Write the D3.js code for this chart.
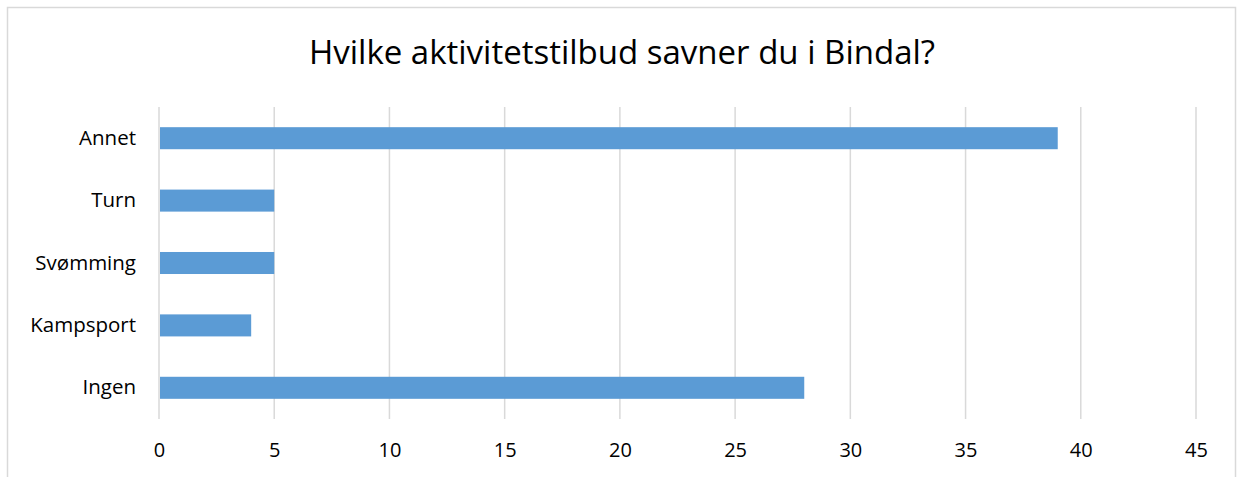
<!DOCTYPE html>
<html>
<head>
<meta charset="utf-8">
<script src="https://cdn.jsdelivr.net/npm/d3@7"></script>
<style>
  body { margin: 0; background: #fff; }
  svg text { font-family: "Open Sans", sans-serif; fill: #000; }
</style>
</head>
<body>
<svg id="chart" width="1237" height="477"></svg>
<script>
    // chart data, top to bottom
    var categories = ["Annet", "Turn", "Svømming", "Kampsport", "Ingen"];
    var counts = [39, 5, 5, 4, 28];
    var xTicks = [0, 5, 10, 15, 20, 25, 30, 35, 40, 45];
    var title = "Hvilke aktivitetstilbud savner du i Bindal?";

    var svg = d3.select("#chart"),
        plot = {left: 159, right: 1196, top: 107, bottom: 419};

    // outer frame
    svg.append("rect")
        .attr("x", 7.5).attr("y", 7.5)
        .attr("width", 1228).attr("height", 520)
        .attr("fill", "none")
        .attr("stroke", "#d9d9d9")
        .attr("stroke-width", 1.5);

    svg.append("text")
        .attr("x", 622).attr("y", 64)
        .attr("text-anchor", "middle")
        .style("font-size", "33px")
        .text(title);

    var x = d3.scaleLinear().domain([0, 45]).range([plot.left, plot.right]);
    var y = d3.scaleBand()
                .domain(categories)
                .range([plot.top, plot.bottom])
                .paddingInner(0.647)
                .paddingOuter(0.3235);

    // gridlines
    svg.append("g")
        .selectAll("line")
        .data(xTicks)
        .enter().append("line")
        .attr("x1", d => x(d)).attr("x2", d => x(d))
        .attr("y1", plot.top).attr("y2", plot.bottom)
        .attr("stroke", "#d9d9d9")
        .attr("stroke-width", 1.5);

    // bars
    svg.append("g")
        .selectAll("rect")
        .data(categories)
        .enter().append("rect")
        .attr("x", x(0) + 1)
        .attr("y", d => y(d))
        .attr("width", (d, i) => x(counts[i]) - x(0) - 1)
        .attr("height", y.bandwidth())
        .attr("fill", "#5b9bd5");

    // x axis labels
    var xAxis = svg.append("g")
        .attr("transform", "translate(0," + plot.bottom + ")")
        .call(d3.axisBottom(x).tickValues(xTicks).tickSize(0).tickPadding(24));
    xAxis.select(".domain").remove();
    xAxis.selectAll("text").style("font-size", "20px").attr("fill", "#000");

    // category labels
    var yAxis = svg.append("g")
        .attr("transform", "translate(" + plot.left + ",0)")
        .call(d3.axisLeft(y).tickSize(0).tickPadding(23));
    yAxis.select(".domain").remove();
    yAxis.selectAll("text").style("font-size", "20.5px").attr("fill", "#000");
</script>
</body>
</html>
